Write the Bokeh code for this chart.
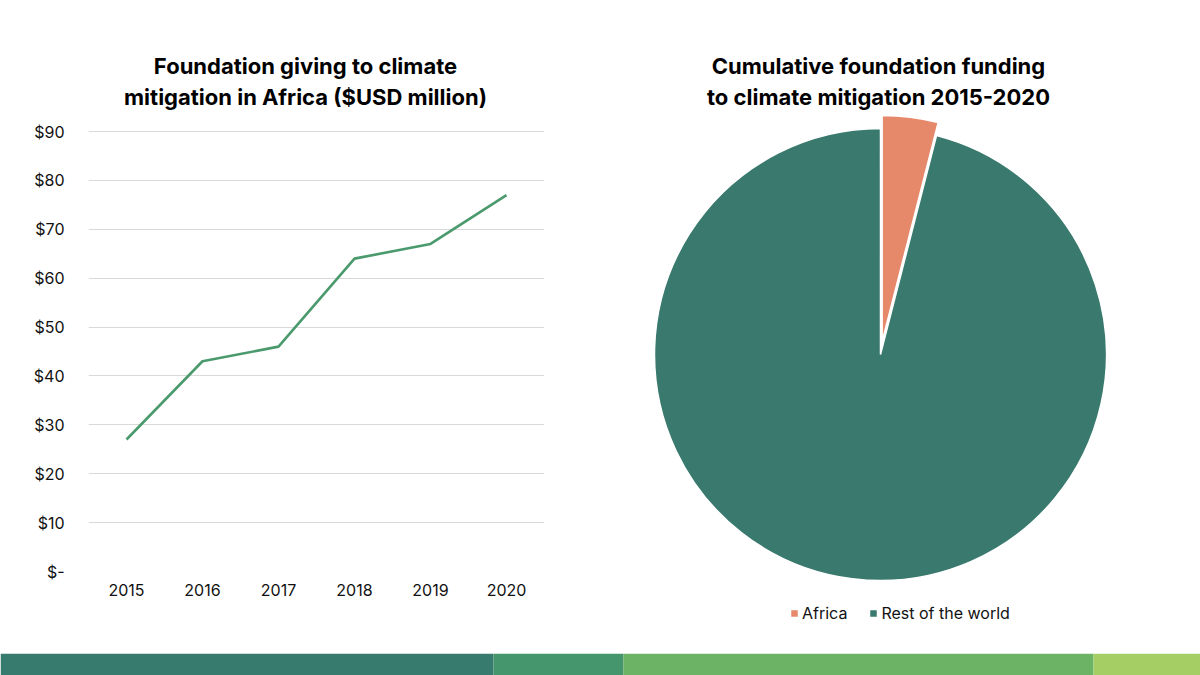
import numpy as np
from bokeh.plotting import figure
from bokeh.layouts import row, column
from bokeh.models import FactorRange, Range1d, FixedTicker, Label, Legend, LegendItem
from bokeh.embed import file_html
from bokeh.resources import INLINE

# ---------------- data ----------------
years = ["2015", "2016", "2017", "2018", "2019", "2020"]
giving_africa = [27, 43, 46, 64, 67, 77]          # $USD million
y_ticks = [0, 10, 20, 30, 40, 50, 60, 70, 80, 90]
y_tick_labels = ["$-", "$10", "$20", "$30", "$40", "$50", "$60", "$70", "$80", "$90"]

pie_labels = ["Africa", "Rest of the world"]
pie_values = [324, 7800]
pie_colors = ["#e5896a", "#3a7a6e"]
pie_explode = [0.058, 0.0]

band_edges = [0, 493, 623, 1093, 1200]
band_colors = ["#377a6e", "#45956d", "#6db366", "#a5cf65"]

FONT = "Inter"
ROW_H = 653
W = 600

# ---------------- line chart ----------------
frame_top, grid_top, frame_bot = 36, 131, 571
y_max = 90 * (frame_bot - frame_top) / (frame_bot - grid_top)
p1 = figure(width=W, height=ROW_H, x_range=FactorRange(factors=years, range_padding=0),
            y_range=Range1d(0, y_max), output_backend="svg", toolbar_location=None,
            min_border_left=88, min_border_right=W - 544, min_border_top=frame_top,
            min_border_bottom=ROW_H - frame_bot)
p1.frame_align = False
p1.line(x=years, y=giving_africa, line_color="#4a9a6e", line_width=2.6)
p1.outline_line_color = None
p1.xgrid.grid_line_color = None
p1.ygrid.grid_line_color = "#d9d9d9"
p1.ygrid.grid_line_width = 1
p1.yaxis.ticker = FixedTicker(ticks=y_ticks)
p1.yaxis.major_label_overrides = {t: l for t, l in zip(y_ticks, y_tick_labels)}
for ax in (p1.xaxis, p1.yaxis):
    ax.axis_line_color = None
    ax.major_tick_line_color = None
    ax.minor_tick_line_color = None
    ax.major_label_text_font = FONT
    ax.major_label_text_font_size = "16px"
    ax.major_label_text_color = "#111111"
p1.yaxis.major_label_standoff = 18
p1.xaxis.major_label_standoff = 6


def title_label(x, y, text):
    return Label(x=x, y=y, x_units="screen", y_units="screen", text=text,
                 text_font=FONT, text_font_style="bold", text_font_size="22px",
                 text_align="center", text_baseline="middle", text_color="#000000")


p1.add_layout(title_label(305 - 88, frame_bot - 65, "Foundation giving to climate"))
p1.add_layout(title_label(305 - 88, frame_bot - 96, "mitigation in Africa ($USD million)"))

# ---------------- pie chart ----------------
R = 226.0
cx, cy = 880.0, 354.0
p2 = figure(width=W, height=ROW_H,
            x_range=Range1d((600 - cx) / R, (1200 - cx) / R),
            y_range=Range1d((cy - ROW_H) / R, cy / R),
            output_backend="svg", toolbar_location=None, min_border=0)
p2.frame_align = False
p2.axis.visible = False
p2.grid.visible = False
p2.outline_line_color = None

vals = np.array(pie_values, dtype=float)
frac = vals / vals.sum()
ends = np.pi / 2 - 2 * np.pi * np.cumsum(frac)
starts = np.concatenate([[np.pi / 2], ends[:-1]])
mids = (starts + ends) / 2
items = []
for i in range(len(pie_values)):
    r = p2.wedge(x=float(pie_explode[i] * np.cos(mids[i])), y=float(pie_explode[i] * np.sin(mids[i])),
                 radius=1.0, start_angle=float(ends[i]), end_angle=float(starts[i]),
                 fill_color=pie_colors[i], line_color="white", line_width=1.5)
    items.append(LegendItem(label=pie_labels[i], renderers=[r]))

legend = Legend(items=items, orientation="horizontal", location=(189, ROW_H - 623),
                border_line_color=None, background_fill_alpha=0, glyph_width=10,
                glyph_height=10, label_standoff=3, spacing=21, padding=0, margin=0,
                label_text_font=FONT, label_text_font_size="16px", label_text_color="#111111")
p2.add_layout(legend)

p2.add_layout(title_label(878 - 600, ROW_H - 65, "Cumulative foundation funding"))
p2.add_layout(title_label(878 - 600, ROW_H - 96, "to climate mitigation 2015-2020"))

# ---------------- bottom colour band ----------------
p3 = figure(width=1200, height=675 - ROW_H, x_range=Range1d(0, 1200), y_range=Range1d(0, 1),
            output_backend="svg", toolbar_location=None, min_border=0)
p3.frame_align = False
p3.axis.visible = False
p3.grid.visible = False
p3.outline_line_color = None
p3.quad(left=band_edges[:-1], right=band_edges[1:], bottom=0, top=1,
        fill_color=band_colors, line_color=None)

layout = column(row(p1, p2), p3)
open("out.html", "w").write(file_html(layout, INLINE))
